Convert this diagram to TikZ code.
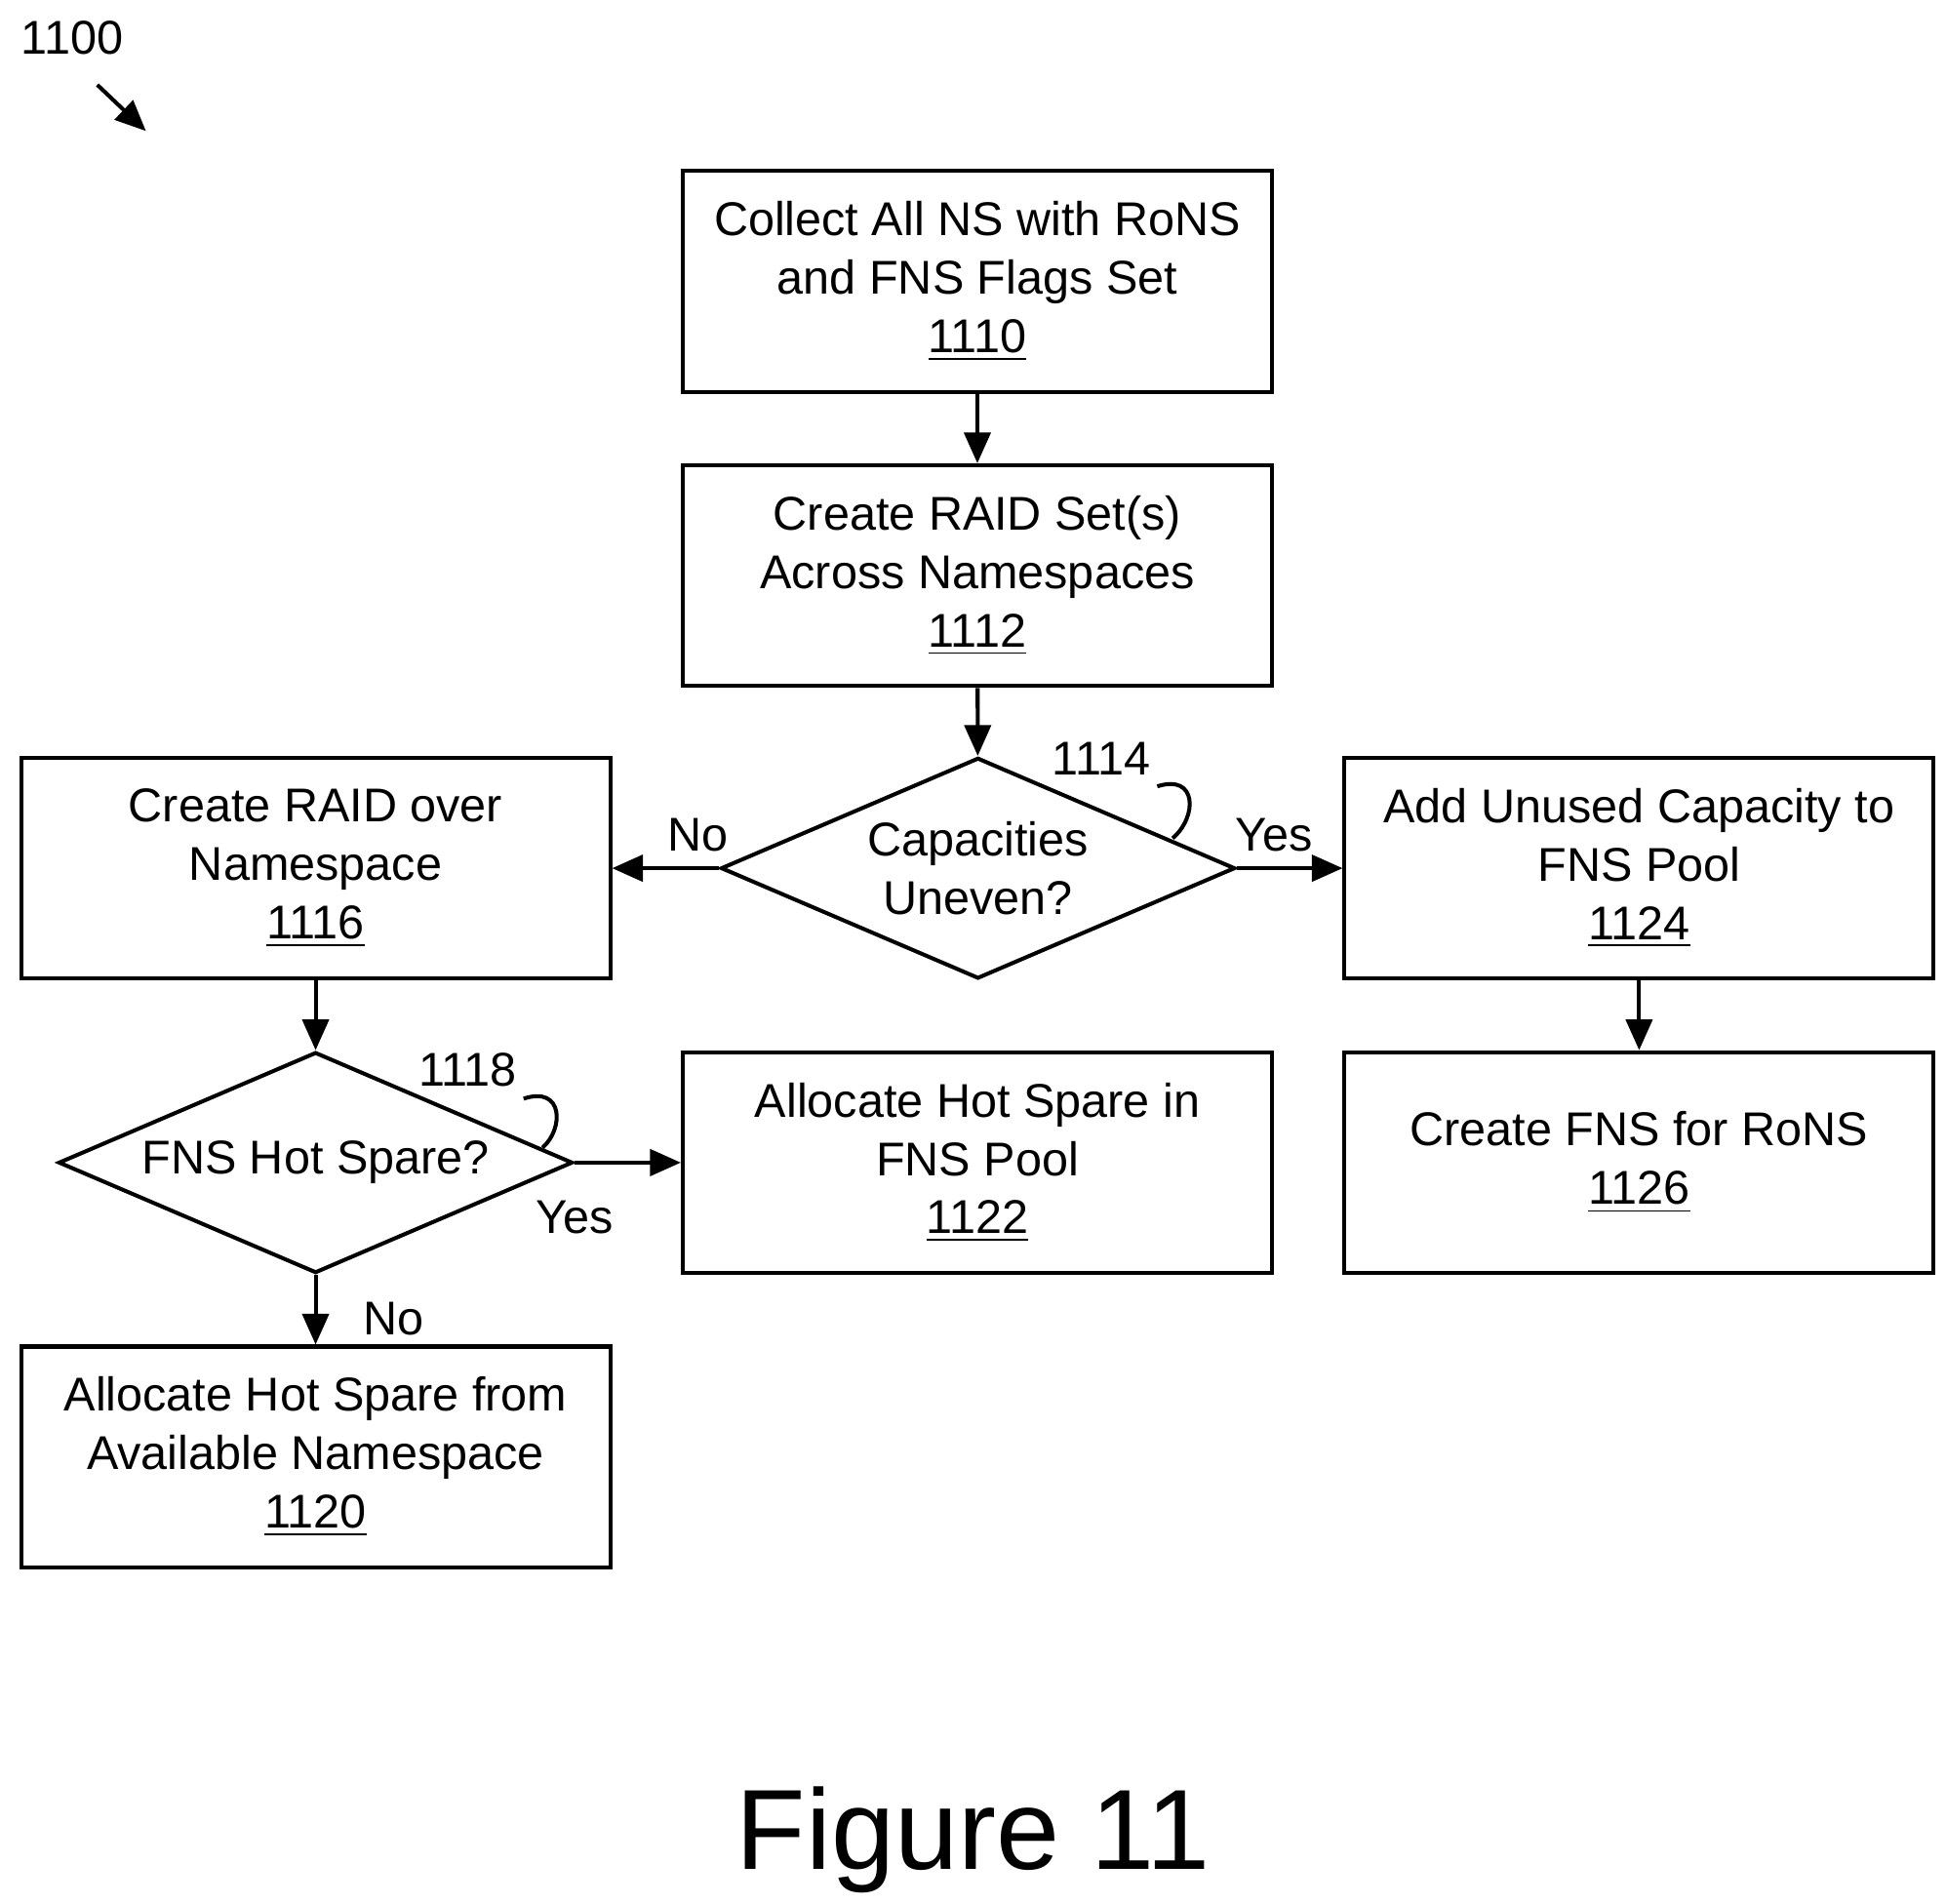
\documentclass[tikz,border=0pt]{standalone}
\usepackage{fontspec}
\setmainfont{Liberation Sans}
\usetikzlibrary{shapes.geometric,arrows.meta}
\begin{document}
\begin{tikzpicture}[x=0.01cm,y=-0.01cm,line width=0.9pt,>={Triangle[length=7pt,width=6pt]}]
        \tikzstyle{process}=[rectangle,draw=black,minimum width=4.72cm,minimum height=1.77cm,align=center,font=\fontsize{10.8}{13.3}\selectfont,inner sep=0pt]
        \tikzstyle{test}=[diamond,draw=black,minimum width=4.12cm,minimum height=1.77cm,aspect=2.3,align=center,font=\fontsize{10.8}{13.3}\selectfont,inner sep=0pt]
        \tikzstyle{lbl}=[font=\fontsize{10.8}{13}\selectfont]
        \tikzstyle{edge}=[draw,->]
        \useasboundingbox (0,0) rectangle (1560,1526);
        \node [lbl] (fig) at (58,30) {1100};
        \coordinate (figa) at (78,68);
        \coordinate (figb) at (117,105);
        \draw[edge] (figa) -- (figb);
        \node [process] (s1110) at (783.5,225.5) {Collect All NS with RoNS\\and FNS Flags Set\\\underline{1110}};
        \node [process] (s1112) at (783.5,461.5) {Create RAID Set(s)\\Across Namespaces\\\underline{1112}};
        \node [test] (d1114) at (784,696) {Capacities\\Uneven?};
        \node [process] (s1116) at (253,696) {Create RAID over\\Namespace\\\underline{1116}};
        \node [process] (s1124) at (1314,696) {Add Unused Capacity to\\FNS Pool\\\underline{1124}};
        \node [test] (d1118) at (253,932) {FNS Hot Spare?};
        \node [process] (s1122) at (783.5,932) {Allocate Hot Spare in\\FNS Pool\\\underline{1122}};
        \node [process] (s1126) at (1314,932) {Create FNS for RoNS\\\underline{1126}};
        \node [process] (s1120) at (253,1168) {Allocate Hot Spare from\\Available Namespace\\\underline{1120}};
        \path[edge] (s1110) -- (s1112);
        \path[edge] (s1112) -- (d1114);
        \path[edge] (d1114) -- node[lbl,above,pos=0.2] {No} (s1116);
        \path[edge] (d1114) -- node[lbl,above,pos=0.35] {Yes} (s1124);
        \path[edge] (s1116) -- (d1118);
        \path[edge] (s1124) -- (s1126);
        \path[edge] (d1118) -- node[lbl,below,pos=0.0,yshift=-5pt] {Yes} (s1122);
        \path[edge] (d1118) -- node[lbl,right,xshift=7pt,yshift=-2pt] {No} (s1120);
        \node [lbl] (n1114) at (883,608) {1114};
        \node [lbl] (n1118) at (375,858) {1118};
        \coordinate (c1114) at (940,672);
        \coordinate (c1118) at (435,920);
        \draw (n1114.south east) ++(-8,-4) .. controls (960,620) and (960,655) .. (c1114);
        \draw (n1118.south east) ++(-8,-4) .. controls (452,870) and (452,905) .. (c1118);
        \node [font=\fontsize{26}{31}\selectfont] (cap) at (780,1475) {Figure 11};
\end{tikzpicture}
\end{document}
